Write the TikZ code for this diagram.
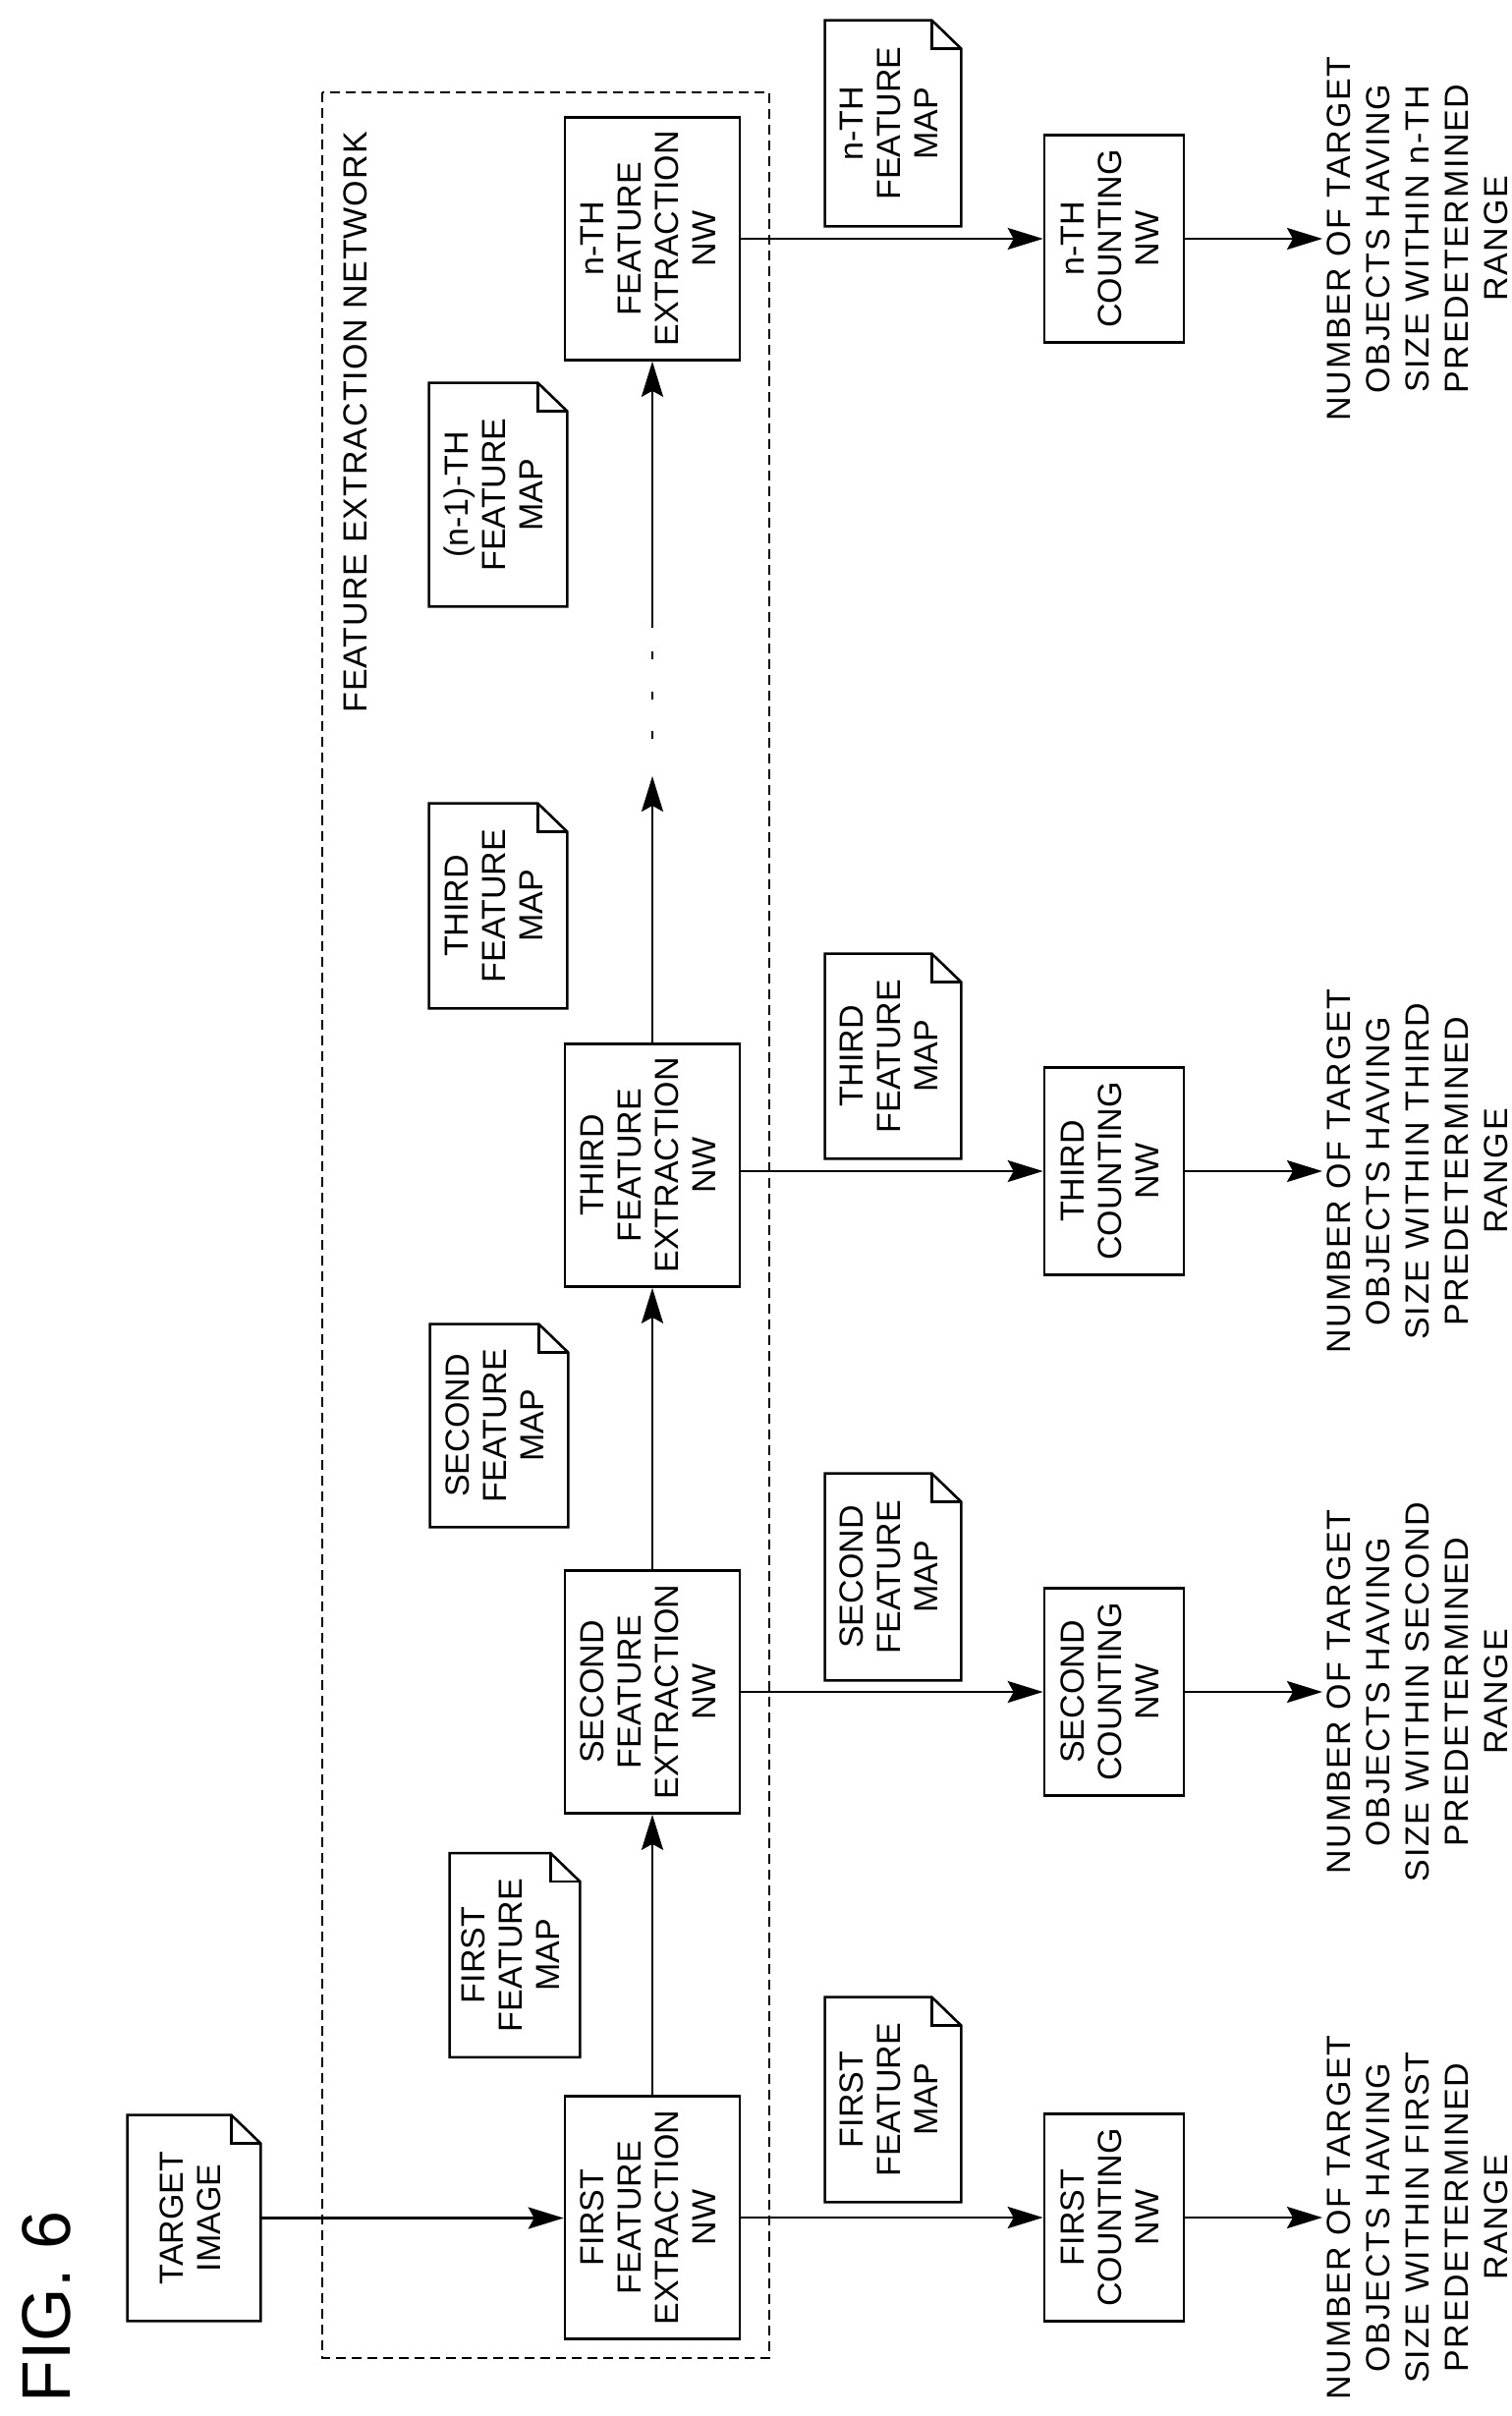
\documentclass[tikz,border=0pt]{standalone}
\usepackage{fontspec}
\setmainfont{Liberation Sans}
\newfontfamily\figfont{Liberation Sans}
\usetikzlibrary{arrows.meta}
\newcommand\rt[1]{\rotatebox{90}{\begin{tabular}{@{}c@{}}#1\end{tabular}}}
\newcommand\docn[6]{%
  \node[inner sep=0pt, minimum width={#4*0.5pt}, minimum height={#5*0.5pt}] (#1) at (#2,#3) {\rt{#6}};
  \draw[ln] (#1.north west) -- ([xshift=-15pt]#1.north east) -- ([yshift=-14.5pt]#1.north east) -- (#1.south east) -- (#1.south west) -- cycle;
  \draw[ln] ([xshift=-15pt]#1.north east) |- ([yshift=-14.5pt]#1.north east);}
\begin{document}
\begin{tikzpicture}[x=0.5pt,y=-0.5pt,
  every node/.style={font=\fontsize{17}{19}\selectfont},
  ln/.style={line width=1.3pt},
  box/.style={draw, line width=1.3pt, inner sep=0pt},
  fe/.style={box, minimum width=89pt, minimum height=123.5pt},
  cnt/.style={box, minimum width=71pt, minimum height=105.5pt},
  arr/.style={line width=1.3pt, -{Stealth[length=18pt,width=11pt,inset=3pt]}},
  lab/.style={inner sep=0pt, anchor=west, font=\fontsize{17}{20}\selectfont\addfontfeatures{LetterSpace=5}}]
\useasboundingbox (0,0) rectangle (1538,2459);
\fill[white] (0,0) rectangle (1538,2459);
% outer dashed
\draw[line width=1pt, dashed, dash pattern=on 5pt off 3pt] (328,94) rectangle (783,2400);
\node[font=\fontsize{17}{19}\selectfont\addfontfeatures{LetterSpace=3}] (title) at (362,430) {\rotatebox{90}{FEATURE EXTRACTION NETWORK}};
\node[font=\figfont\fontsize{35}{40}\selectfont] (fig) at (47,2348) {\rotatebox{90}{FIG. 6}};
% target image
\docn{tgt}{197.5}{2257.5}{135}{209}{TARGET\\IMAGE}
% feature extraction boxes
\node[fe] (fe1) at (664,2257) {\rt{FIRST\\FEATURE\\EXTRACTION\\NW}};
\node[fe] (fe2) at (664,1722) {\rt{SECOND\\FEATURE\\EXTRACTION\\NW}};
\node[fe] (fe3) at (664,1186) {\rt{THIRD\\FEATURE\\EXTRACTION\\NW}};
\node[fe] (fen) at (664,243) {\rt{n-TH\\FEATURE\\EXTRACTION\\NW}};
% inner maps
\docn{m1i}{524}{1990}{132}{207}{FIRST\\FEATURE\\MAP}
\docn{m2i}{508}{1451}{140}{206}{SECOND\\FEATURE\\MAP}
\docn{m3i}{507}{922}{140}{208}{THIRD\\FEATURE\\MAP}
\docn{mni}{507}{503.5}{140}{227}{(n-1)-TH\\FEATURE\\MAP}
% outer maps
\docn{m1o}{909}{2137}{138}{208}{FIRST\\FEATURE\\MAP}
\docn{m2o}{909}{1605}{138}{210}{SECOND\\FEATURE\\MAP}
\docn{m3o}{909}{1075}{138}{208}{THIRD\\FEATURE\\MAP}
\docn{mno}{909}{125.5}{138}{209}{n-TH\\FEATURE\\MAP}
% counting
\node[cnt] (c1) at (1134,2257) {\rt{FIRST\\COUNTING\\NW}};
\node[cnt] (c2) at (1134,1722) {\rt{SECOND\\COUNTING\\NW}};
\node[cnt] (c3) at (1134,1192) {\rt{THIRD\\COUNTING\\NW}};
\node[cnt] (cn) at (1134,243) {\rt{n-TH\\COUNTING\\NW}};
% labels
\node[lab] (l1) at (1346,2257) {\rt{NUMBER OF TARGET\\OBJECTS HAVING\\SIZE WITHIN FIRST\\PREDETERMINED\\RANGE}};
\node[lab] (l2) at (1346,1722) {\rt{NUMBER OF TARGET\\OBJECTS HAVING\\SIZE WITHIN SECOND\\PREDETERMINED\\RANGE}};
\node[lab] (l3) at (1346,1192) {\rt{NUMBER OF TARGET\\OBJECTS HAVING\\SIZE WITHIN THIRD\\PREDETERMINED\\RANGE}};
\node[lab] (ln) at (1346,243) {\rt{NUMBER OF TARGET\\OBJECTS HAVING\\SIZE WITHIN n-TH\\PREDETERMINED\\RANGE}};
% connectors
\draw[arr] (tgt.east) -- (tgt.east -| fe1.west);
\draw[arr] (fe1) -- (fe2);
\draw[arr] (fe2) -- (fe3);
\coordinate (d0) at (664,790);
\coordinate (d1) at (664,639);
\draw[arr] (fe3.north) -- (d0);
\draw[arr] (d1) -- (fen.south);
\foreach \yy in {667,708,748} \draw[line width=1.3pt] (664,\yy-4) -- (664,\yy+4);
\foreach \i in {1,2,3,n}{
  \draw[arr] (fe\i.east |- c\i) -- (c\i.west);
  \draw[arr] (c\i.east) -- (l\i.west);
}
\end{tikzpicture}
\end{document}
